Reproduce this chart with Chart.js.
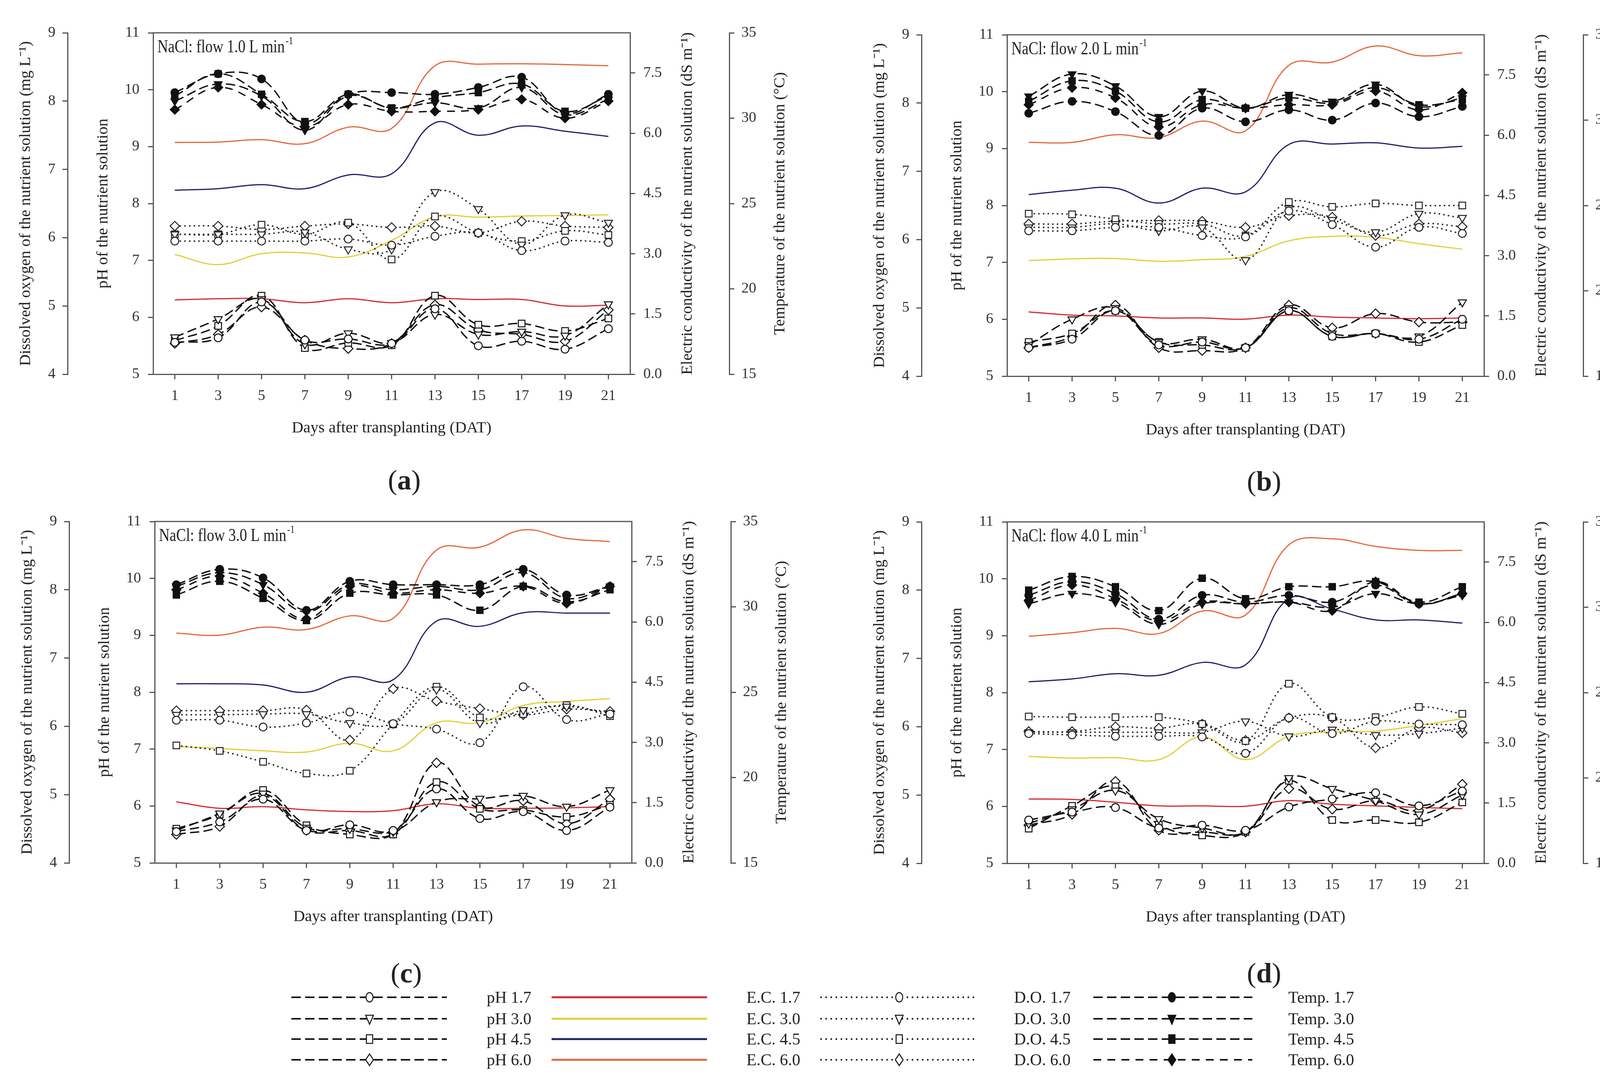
<!DOCTYPE html>
<html>
<head>
<meta charset="utf-8">
<script src="https://cdn.jsdelivr.net/npm/chart.js@4.4.1/dist/chart.umd.min.js"></script>
<style>
  html, body { margin: 0; padding: 0; background: #fff; }
  body { position: relative; width: 4261px; height: 2775px; overflow: hidden; font-family: "Liberation Serif", "Times New Roman", serif; }
  canvas { position: absolute; }
  .lab { position: absolute; font-size: 72px; color: #222; transform: translate(-50%, -50%); white-space: nowrap; }
  #legend { position: absolute; left: 0; top: 0; }
</style>
</head>
<body>
<canvas id="pa" width="2050" height="1158" style="left:0px;top:0px"></canvas>
<canvas id="pb" width="2050" height="1158" style="left:2186px;top:5px"></canvas>
<canvas id="pc" width="2050" height="1158" style="left:4px;top:1251px"></canvas>
<canvas id="pd" width="2050" height="1158" style="left:2186px;top:1252px"></canvas>
<div class="lab" style="left:1035px;top:1229px">(<b>a</b>)</div>
<div class="lab" style="left:3236px;top:1232px">(<b>b</b>)</div>
<div class="lab" style="left:1040px;top:2491px">(<b>c</b>)</div>
<div class="lab" style="left:3236px;top:2491px">(<b>d</b>)</div>
<svg id="legend" width="4261" height="2775"></svg>
<script>
// ---- data (days after transplanting, one row per treatment 1.7 / 3.0 / 4.5 / 6.0) ----
const days = [1, 3, 5, 7, 9, 11, 13, 15, 17, 19, 21];
const levels = ['1.7', '3.0', '4.5', '6.0'];
const flows = ['1.0', '2.0', '3.0', '4.0'];
const ecTicks = [0, 1.5, 3, 4.5, 6, 7.5];

// (a) flow 1.0 L/min
const phA = [
  [5.56, 5.64, 6.27, 5.60, 5.62, 5.54, 6.15, 5.50, 5.58, 5.44, 5.80],
  [5.65, 5.97, 6.32, 5.53, 5.72, 5.55, 6.05, 5.70, 5.75, 5.68, 6.23],
  [5.59, 5.85, 6.38, 5.46, 5.55, 5.51, 6.38, 5.87, 5.89, 5.76, 5.98],
  [5.54, 5.70, 6.18, 5.60, 5.45, 5.54, 6.22, 5.78, 5.70, 5.58, 6.13]
];
const ecA = [
  [1.85, 1.88, 1.88, 1.78, 1.88, 1.78, 1.88, 1.86, 1.86, 1.70, 1.72],
  [2.98, 2.73, 3.00, 3.02, 2.92, 3.33, 3.92, 3.91, 3.94, 3.95, 3.97],
  [4.58, 4.62, 4.72, 4.62, 4.96, 4.99, 6.26, 5.95, 6.18, 6.05, 5.92],
  [5.77, 5.78, 5.84, 5.74, 6.15, 6.12, 7.68, 7.72, 7.73, 7.71, 7.68]
];
const doA = [
  [5.95, 5.95, 5.95, 5.95, 5.98, 5.89, 6.02, 6.07, 5.81, 5.95, 5.93],
  [6.05, 6.05, 6.05, 6.08, 5.83, 5.83, 6.67, 6.42, 5.90, 6.33, 6.22],
  [6.05, 6.05, 6.19, 6.05, 6.22, 5.68, 6.31, 6.07, 5.95, 6.10, 6.04],
  [6.17, 6.17, 6.12, 6.17, 6.20, 6.15, 6.17, 6.07, 6.24, 6.17, 6.15]
];
const tempA = [
  [31.5, 32.6, 32.3, 29.7, 31.4, 31.5, 31.4, 31.8, 32.4, 30.3, 31.4],
  [31.0, 32.0, 31.3, 29.3, 31.3, 30.6, 30.9, 30.6, 31.8, 30.2, 31.1],
  [31.3, 32.6, 31.4, 29.8, 31.4, 30.6, 31.2, 31.5, 32.0, 30.4, 31.3],
  [30.5, 31.8, 30.8, 29.5, 30.8, 30.4, 30.4, 30.5, 31.1, 30.0, 31.0]
];

// (b) flow 2.0 L/min
const phB = [
  [5.50, 5.65, 6.15, 5.55, 5.60, 5.50, 6.15, 5.70, 5.75, 5.65, 6.00],
  [5.55, 6.00, 6.20, 5.60, 5.65, 5.50, 6.20, 5.75, 5.75, 5.70, 6.30],
  [5.60, 5.75, 6.15, 5.60, 5.55, 5.50, 6.15, 5.70, 5.75, 5.60, 5.90],
  [5.50, 5.70, 6.25, 5.50, 5.45, 5.50, 6.25, 5.85, 6.10, 5.95, 5.95]
];
const ecB = [
  [1.60, 1.52, 1.50, 1.45, 1.45, 1.42, 1.52, 1.47, 1.45, 1.43, 1.45],
  [2.88, 2.92, 2.93, 2.86, 2.90, 2.98, 3.37, 3.48, 3.46, 3.30, 3.16],
  [4.52, 4.63, 4.68, 4.31, 4.68, 4.59, 5.77, 5.78, 5.81, 5.68, 5.72],
  [5.82, 5.82, 6.01, 5.94, 6.35, 6.11, 7.74, 7.82, 8.22, 7.98, 8.05]
];
const doB = [
  [6.13, 6.13, 6.18, 6.18, 6.06, 6.04, 6.42, 6.22, 5.89, 6.18, 6.09],
  [6.18, 6.18, 6.23, 6.13, 6.18, 5.70, 6.46, 6.29, 6.11, 6.38, 6.32],
  [6.38, 6.37, 6.30, 6.23, 6.23, 6.06, 6.55, 6.48, 6.53, 6.50, 6.50],
  [6.23, 6.23, 6.27, 6.28, 6.27, 6.18, 6.35, 6.33, 6.06, 6.23, 6.19]
];
const tempB = [
  [30.4, 31.1, 30.5, 29.1, 30.7, 29.9, 30.6, 30.0, 31.0, 30.2, 30.8],
  [31.4, 32.7, 32.0, 30.2, 31.7, 30.7, 31.5, 31.1, 32.1, 30.8, 31.3],
  [31.1, 32.3, 31.7, 29.9, 31.2, 30.7, 31.3, 31.0, 31.9, 30.9, 31.2],
  [30.9, 31.9, 31.3, 29.6, 30.9, 30.7, 30.9, 30.9, 31.7, 30.6, 31.6]
];

// (c) flow 3.0 L/min
const phC = [
  [5.55, 5.72, 6.12, 5.57, 5.67, 5.57, 6.30, 5.78, 5.90, 5.57, 5.98],
  [5.57, 5.87, 6.22, 5.62, 5.60, 5.55, 6.07, 6.13, 6.18, 5.99, 6.28],
  [5.60, 5.85, 6.28, 5.66, 5.50, 5.50, 6.42, 5.95, 5.93, 5.81, 6.02],
  [5.50, 5.64, 6.18, 5.57, 5.57, 5.52, 6.76, 5.99, 6.09, 5.69, 6.12]
];
const ecC = [
  [1.52, 1.36, 1.40, 1.32, 1.28, 1.30, 1.47, 1.36, 1.36, 1.37, 1.40],
  [2.90, 2.85, 2.79, 2.76, 2.98, 2.79, 3.49, 3.49, 3.92, 4.02, 4.09],
  [4.46, 4.46, 4.43, 4.25, 4.63, 4.56, 6.02, 5.89, 6.23, 6.22, 6.22],
  [5.72, 5.67, 5.87, 5.81, 6.15, 6.09, 7.79, 7.86, 8.29, 8.08, 8.00]
];
const doC = [
  [6.09, 6.09, 5.99, 6.05, 6.21, 6.04, 5.96, 5.76, 6.58, 6.10, 6.18],
  [6.17, 6.17, 6.18, 6.18, 6.05, 6.04, 6.54, 6.05, 6.24, 6.29, 6.19],
  [5.72, 5.64, 5.48, 5.31, 5.35, 6.03, 6.58, 6.13, 6.18, 6.31, 6.15],
  [6.23, 6.23, 6.23, 6.24, 5.80, 6.55, 6.37, 6.26, 6.17, 6.25, 6.22]
];
const tempC = [
  [31.3, 32.2, 31.7, 29.8, 31.5, 31.3, 31.3, 31.3, 32.2, 30.7, 31.2],
  [31.2, 32.0, 31.3, 29.7, 31.3, 31.0, 31.2, 31.0, 32.0, 30.5, 31.2],
  [30.7, 31.5, 30.5, 29.2, 30.8, 30.7, 30.7, 29.8, 31.2, 30.3, 31.0],
  [31.0, 31.8, 30.8, 29.3, 31.2, 30.8, 31.0, 30.8, 31.2, 30.2, 31.2]
];

// (d) flow 4.0 L/min
const phD = [
  [5.76, 5.90, 5.98, 5.62, 5.67, 5.58, 5.99, 6.13, 6.24, 6.01, 6.27],
  [5.70, 5.95, 6.28, 5.78, 5.62, 5.55, 6.50, 6.31, 6.10, 5.86, 6.20],
  [5.61, 6.01, 6.35, 5.68, 5.49, 5.55, 6.45, 5.76, 5.76, 5.72, 6.07],
  [5.67, 5.86, 6.44, 5.58, 5.55, 5.55, 6.31, 5.95, 6.10, 5.93, 6.39]
];
const ecD = [
  [1.60, 1.59, 1.52, 1.43, 1.43, 1.42, 1.56, 1.47, 1.43, 1.39, 1.36],
  [2.66, 2.62, 2.63, 2.58, 3.15, 2.58, 3.16, 3.27, 3.29, 3.43, 3.60],
  [4.52, 4.59, 4.72, 4.68, 5.00, 4.94, 6.59, 6.33, 6.06, 6.06, 5.98],
  [5.65, 5.74, 5.85, 5.72, 6.28, 6.18, 7.93, 8.08, 7.89, 7.79, 7.79]
];
const doD = [
  [5.90, 5.88, 5.86, 5.86, 5.85, 5.61, 6.13, 5.90, 6.08, 6.04, 6.03],
  [5.92, 5.92, 5.92, 5.92, 5.92, 6.08, 5.86, 5.96, 5.88, 5.90, 5.98],
  [6.15, 6.14, 6.14, 6.14, 6.04, 5.79, 6.63, 6.14, 6.14, 6.29, 6.19],
  [5.93, 5.93, 6.00, 5.98, 6.04, 5.80, 6.13, 6.13, 5.69, 5.98, 5.91]
];
const tempD = [
  [30.7, 31.5, 30.8, 29.3, 30.7, 30.3, 30.7, 30.3, 31.3, 30.2, 30.8],
  [30.2, 30.8, 30.3, 29.0, 30.2, 30.2, 30.3, 30.0, 30.8, 30.2, 30.7],
  [31.0, 31.8, 31.2, 29.8, 31.7, 30.5, 31.2, 31.2, 31.5, 30.3, 31.2],
  [30.4, 31.3, 30.5, 29.2, 30.3, 30.2, 30.3, 29.8, 31.5, 30.2, 30.8]
];

// ---- style ----
const FONT = "'Liberation Serif', 'Times New Roman', serif";
Chart.defaults.font.family = FONT;
Chart.defaults.color = '#333';
const ecColors = ['#d42a30', '#e3cd36', '#1d2068', '#e5663a'];
const shapes = [
  { pointStyle: 'circle', pointRotation: 0, pointRadius: 10 },
  { pointStyle: 'triangle', pointRotation: 180, pointRadius: 12 },
  { pointStyle: 'rect', pointRotation: 0, pointRadius: 12 },
  { pointStyle: 'rectRot', pointRotation: 0, pointRadius: 12 }
];

function pts(arr) { return days.map((d, k) => ({ x: d, y: arr[k] })); }

function buildSets(p) {
  const sets = [];
  levels.forEach((lv, i) => {
    sets.push(Object.assign({
      label: 'Temp. ' + lv, data: pts(p.temp[i]), yAxisID: 'temp',
      borderColor: '#111', borderWidth: 3.5, borderDash: i === 3 ? [20, 16] : [24, 11],
      pointBackgroundColor: '#111', pointBorderColor: '#111', pointBorderWidth: 2
    }, shapes[i]));
  });
  levels.forEach((lv, i) => {
    sets.push(Object.assign({
      label: 'D.O. ' + lv, data: pts(p.dox[i]), yAxisID: 'do',
      borderColor: '#222', borderWidth: 3.5, borderDash: [4, 8],
      pointBackgroundColor: '#fff', pointBorderColor: '#222', pointBorderWidth: 2.5
    }, shapes[i]));
  });
  levels.forEach((lv, i) => {
    sets.push(Object.assign({
      label: 'pH ' + lv, data: pts(p.ph[i]), yAxisID: 'ph',
      borderColor: '#111', borderWidth: 3.5, borderDash: [24, 11],
      pointBackgroundColor: '#fff', pointBorderColor: '#111', pointBorderWidth: 2.5
    }, shapes[i]));
  });
  levels.forEach((lv, i) => {
    sets.push({
      label: 'E.C. ' + lv, data: pts(p.ec[i]), yAxisID: 'ec',
      borderColor: ecColors[i], borderWidth: 3, pointRadius: 0
    });
  });
  return sets;
}

// axis widths fixed so every panel lines up like the original figure
function fixW(w) { return s => { s.width = w; s.paddingTop = 0; s.paddingBottom = 0; }; }
const grid = { drawOnChartArea: false, drawTicks: true, tickLength: 13, color: '#555', lineWidth: 3 };
const border = { display: true, color: '#555', width: 3 };
const tickFont = { size: 38, family: FONT };
const titleFont = { size: 41, family: FONT };

// top frame line, the in-plot caption and the right hand titles (they read upward)
const extras = {
  id: 'extras',
  afterDraw(chart, args, opts) {
    const { ctx, chartArea: a, scales } = chart;
    ctx.save();
    ctx.strokeStyle = '#555';
    ctx.lineWidth = 3;
    ctx.beginPath();
    ctx.moveTo(a.left - 1.5, a.top);
    ctx.lineTo(a.right + 1.5, a.top);
    ctx.stroke();

    ctx.fillStyle = '#222';
    ctx.save();
    ctx.translate(a.left + 11, a.top + 50);
    ctx.scale(0.82, 1);
    ctx.font = '46px ' + FONT;
    ctx.textBaseline = 'alphabetic';
    const t = 'NaCl: flow ' + opts.flow + ' L min';
    ctx.fillText(t, 0, 0);
    const w = ctx.measureText(t).width;
    ctx.font = '28px ' + FONT;
    ctx.fillText('-1', w + 3, -21);
    ctx.restore();

    const mid = (a.top + a.bottom) / 2;
    [['ec', 147, 'Electric conductivity of the nutrient solution (dS m\u207B\u00B9)'],
     ['temp', 130, 'Temperature of the nutrient solution (\u00B0C)']].forEach(([id, off, txt]) => {
      ctx.save();
      ctx.translate(scales[id].left + off, mid);
      ctx.rotate(-Math.PI / 2);
      ctx.font = '41px ' + FONT;
      ctx.textAlign = 'center';
      ctx.textBaseline = 'middle';
      ctx.fillText(txt, 0, 0);
      ctx.restore();
    });
    ctx.restore();
  }
};

function drawPanel(id, p) {
  new Chart(document.getElementById(id), {
    type: 'line',
    data: { datasets: buildSets(p) },
    options: {
      responsive: false, animation: false, devicePixelRatio: 1,
      layout: { padding: { left: 0, top: 84, right: 8, bottom: 0 } },
      elements: { line: { tension: 0.4, fill: false } },
      plugins: { legend: { display: false }, tooltip: { enabled: false }, extras: { flow: p.flow } },
      scales: {
        x: {
          type: 'linear', position: 'bottom', min: 0, max: 22, grid, border,
          afterBuildTicks: s => { s.ticks = days.map(v => ({ value: v })); },
          afterFit: s => { s.height = 200; s.paddingLeft = 0; s.paddingRight = 0; },
          ticks: { font: tickFont, color: '#333', padding: 20, maxRotation: 0, autoSkip: false },
          title: { display: true, text: 'Days after transplanting (DAT)', font: titleFont, color: '#222', padding: { top: 0, bottom: 37 } }
        },
        ph: {
          type: 'linear', position: 'left', min: 5, max: 11, grid, border,
          afterFit: fixW(219),
          ticks: { stepSize: 1, font: tickFont, color: '#333', padding: 22 },
          title: { display: true, text: 'pH of the nutrient solution', font: titleFont, color: '#222', padding: { top: 67, bottom: 0 } }
        },
        do: {
          type: 'linear', position: 'left', min: 4, max: 9, grid, border,
          afterFit: fixW(173),
          ticks: { stepSize: 1, font: tickFont, color: '#333', padding: 18 },
          title: { display: true, text: 'Dissolved oxygen of the nutrient solution (mg L\u207B\u00B9)', font: titleFont, color: '#222', padding: { top: 42, bottom: 0 } }
        },
        ec: {
          type: 'linear', position: 'right', min: 0, max: 8.5, grid, border,
          afterFit: fixW(254),
          afterBuildTicks: s => { s.ticks = ecTicks.map(v => ({ value: v })); },
          ticks: { font: tickFont, color: '#333', padding: 21, callback: v => Number(v).toFixed(1) }
        },
        temp: {
          type: 'linear', position: 'right', min: 15, max: 35, grid, border,
          afterFit: fixW(175),
          ticks: { stepSize: 5, font: tickFont, color: '#333', padding: 18 }
        }
      }
    },
    plugins: [extras]
  });
}

drawPanel('pa', { flow: flows[0], ph: phA, ec: ecA, dox: doA, temp: tempA });
drawPanel('pb', { flow: flows[1], ph: phB, ec: ecB, dox: doB, temp: tempB });
drawPanel('pc', { flow: flows[2], ph: phC, ec: ecC, dox: doC, temp: tempC });
drawPanel('pd', { flow: flows[3], ph: phD, ec: ecD, dox: doD, temp: tempD });

// ---- legend at the foot of the figure ----
const svgNS = 'http://www.w3.org/2000/svg';
const svg = document.getElementById('legend');
function el(tag, attrs, txt) {
  const e = document.createElementNS(svgNS, tag);
  for (const k in attrs) e.setAttribute(k, attrs[k]);
  if (txt) e.textContent = txt;
  svg.appendChild(e);
  return e;
}
function marker(i, cx, cy, fill) {
  const st = { fill: fill, stroke: '#111', 'stroke-width': 2.5 };
  if (i === 0) el('ellipse', Object.assign({ cx: cx, cy: cy, rx: 9, ry: 12 }, st));
  else if (i === 1) el('polygon', Object.assign({ points: (cx - 10) + ',' + (cy - 9) + ' ' + (cx + 10) + ',' + (cy - 9) + ' ' + cx + ',' + (cy + 14) }, st));
  else if (i === 2) el('rect', Object.assign({ x: cx - 8, y: cy - 11, width: 16, height: 22 }, st));
  else el('polygon', Object.assign({ points: cx + ',' + (cy - 15) + ' ' + (cx + 10) + ',' + cy + ' ' + cx + ',' + (cy + 15) + ' ' + (cx - 10) + ',' + cy }, st));
}
function label(x, y, txt) {
  el('text', { x: x, y: y, 'font-family': FONT, 'font-size': 42, fill: '#222', 'dominant-baseline': 'central' }, txt);
}
const rowY = [2553, 2608, 2660, 2713];
levels.forEach((lv, i) => {
  const y = rowY[i];
  el('line', { x1: 746, y1: y, x2: 1144, y2: y, stroke: '#111', 'stroke-width': 4, 'stroke-dasharray': '24 11' });
  marker(i, 946, y, '#fff');
  label(1246, y, 'pH ' + lv);
  el('line', { x1: 1412, y1: y, x2: 1810, y2: y, stroke: ecColors[i], 'stroke-width': 5 });
  label(1911, y, 'E.C. ' + lv);
  el('line', { x1: 2100, y1: y, x2: 2503, y2: y, stroke: '#222', 'stroke-width': 4, 'stroke-dasharray': '4 9' });
  marker(i, 2302, y, '#fff');
  label(2596, y, 'D.O. ' + lv);
  el('line', { x1: 2799, y1: y, x2: 3206, y2: y, stroke: '#111', 'stroke-width': 4, 'stroke-dasharray': i === 3 ? '20 16' : '24 11' });
  marker(i, 3000, y, '#111');
  label(3298, y, 'Temp. ' + lv);
});
</script>
</body>
</html>
